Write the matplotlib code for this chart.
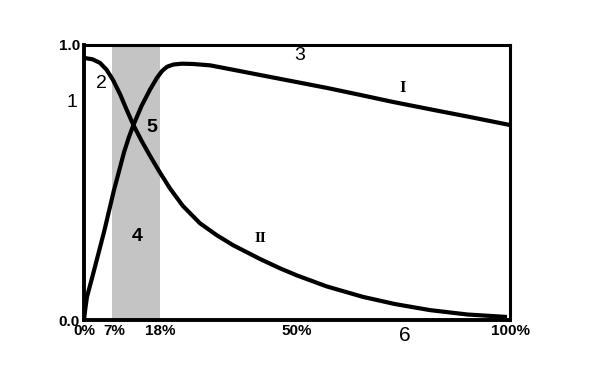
import matplotlib
matplotlib.use("Agg")
import matplotlib.pyplot as plt

# Curve I (rising then slowly falling)
x1 = [0, 0.3, 0.7, 2.35, 4.7, 7.0, 9.4, 10.5, 11.6, 13.5, 15.5, 17.1, 18.3, 19.5, 21.0, 23.0, 25.6, 29.6, 35.0, 41.3, 50.0, 57.0, 65.0, 72.5, 82.0, 90.0, 100.0]
y1 = [0.0, 0.04, 0.084, 0.18, 0.32, 0.47, 0.61, 0.663, 0.709, 0.778, 0.838, 0.880, 0.905, 0.921, 0.929, 0.932, 0.931, 0.926, 0.91, 0.891, 0.865, 0.844, 0.818, 0.793, 0.764, 0.74, 0.709]

# Curve II (falling)
x2 = [0, 2.0, 3.75, 5.3, 6.8, 8.5, 10.0, 11.6, 13.5, 15.5, 17.8, 20.2, 23.2, 27.2, 31.2, 35.0, 41.3, 46.0, 50.0, 57.0, 65.5, 73.0, 81.2, 90.0, 99.3]
y2 = [0.953, 0.948, 0.935, 0.91, 0.873, 0.82, 0.765, 0.709, 0.652, 0.597, 0.537, 0.478, 0.415, 0.352, 0.308, 0.272, 0.222, 0.188, 0.162, 0.122, 0.084, 0.058, 0.036, 0.02, 0.011]

band = (6.6, 17.8)
xticks = [0, 7, 18, 50, 100]
xticklabels = ["0%", "7%", "18%", "50%", "100%"]
yticks = [0, 1]
yticklabels = ["0.0", "1.0"]

fig = plt.figure(figsize=(6.08, 3.86), dpi=100)
ax = fig.add_axes([84/608, 66/386, 426/608, 275/386])
ax.set_xlim(0, 100)
ax.set_ylim(0, 1)

ax.axvspan(band[0], band[1], facecolor="#c4c4c4", edgecolor="none", zorder=0)

ax.plot(x1, y1, color="black", lw=3, solid_capstyle="butt", solid_joinstyle="round", zorder=3)
ax.plot(x2, y2, color="black", lw=3, solid_capstyle="butt", solid_joinstyle="round", zorder=3)

ax.spines["left"].set_linewidth(2.8)
ax.spines["bottom"].set_linewidth(2.8)
ax.spines["top"].set_linewidth(2.2)
ax.spines["right"].set_linewidth(2.2)

ax.set_xticks(xticks)
ax.set_xticklabels(xticklabels, fontfamily="Liberation Sans", fontweight="bold", fontsize=11)
ax.set_yticks(yticks)
ax.set_yticklabels(yticklabels, fontfamily="Liberation Sans", fontweight="bold", fontsize=11)
ax.tick_params(length=0, pad=3)

sans = dict(fontfamily="Liberation Sans", fontsize=14, ha="center", va="center")
ax.text(-2.8, 0.79, "1", clip_on=False, **sans)
ax.text(4.0, 0.86, "2", **sans)
ax.text(50.7, 0.96, "3", **sans)
ax.text(12.4, 0.305, "4", fontweight="bold", **sans)
ax.text(16.0, 0.70, "5", fontweight="bold", **sans)
ax.text(75.4, -0.058, "6", clip_on=False, **{**sans, "fontsize": 15})

serif = dict(fontfamily="Liberation Serif", fontweight="bold", fontsize=12, ha="center", va="center")
ax.text(74.9, 0.844, "I", **serif)
ax.text(41.5, 0.298, "II", **{**serif, "fontsize": 11})

fig.savefig("out.png", dpi=100)
